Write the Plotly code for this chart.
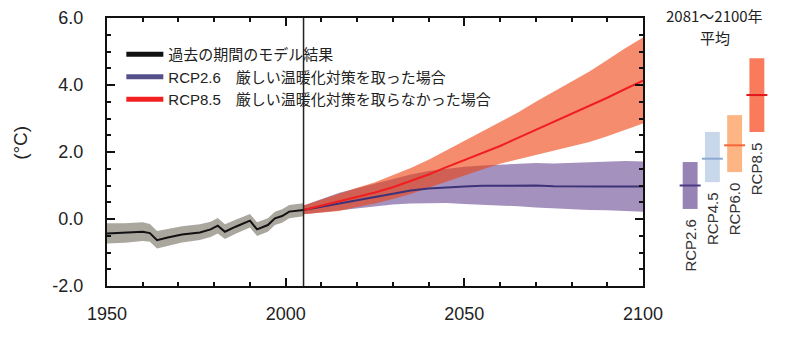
import plotly.graph_objects as go

# ---- historical model results (1950-2005) ----
hist_years = [1950, 1955, 1960, 1962, 1964, 1967, 1971, 1976, 1979, 1981,
              1983, 1986, 1990, 1992, 1995, 1997, 1999, 2001, 2003, 2005]
hist_mean = [-0.43, -0.41, -0.38, -0.42, -0.63, -0.55, -0.46, -0.40, -0.31, -0.20,
             -0.38, -0.23, -0.05, -0.31, -0.18, 0.02, 0.09, 0.22, 0.24, 0.27]
hist_upper = [-0.13, -0.13, -0.10, -0.15, -0.36, -0.30, -0.22, -0.16, -0.08, 0.03,
              -0.16, -0.02, 0.15, -0.10, 0.02, 0.22, 0.29, 0.42, 0.44, 0.47]
hist_lower = [-0.73, -0.71, -0.66, -0.68, -0.88, -0.80, -0.70, -0.63, -0.54, -0.43,
              -0.60, -0.44, -0.25, -0.51, -0.38, -0.18, -0.11, 0.02, 0.05, 0.08]

# ---- projections (2005-2100) ----
proj_years = [2005, 2010, 2015, 2020, 2025, 2030, 2035, 2040, 2045, 2050,
              2055, 2060, 2065, 2070, 2075, 2080, 2085, 2090, 2095, 2100]

rcp26_mean = [0.27, 0.37, 0.47, 0.57, 0.67, 0.77, 0.85, 0.91, 0.95, 0.97,
              0.99, 1.00, 0.99, 1.00, 0.98, 0.97, 0.98, 0.97, 0.97, 0.97]
rcp26_upper = [0.40, 0.60, 0.78, 0.92, 1.05, 1.20, 1.33, 1.43, 1.50, 1.56,
               1.60, 1.62, 1.64, 1.67, 1.66, 1.68, 1.68, 1.70, 1.73, 1.72]
rcp26_lower = [0.14, 0.20, 0.26, 0.33, 0.38, 0.43, 0.46, 0.48, 0.48, 0.45,
               0.43, 0.41, 0.38, 0.34, 0.31, 0.29, 0.27, 0.26, 0.24, 0.22]

rcp85_mean = [0.27, 0.40, 0.52, 0.65, 0.79, 0.95, 1.13, 1.33, 1.55, 1.76,
              1.97, 2.18, 2.42, 2.66, 2.90, 3.13, 3.37, 3.62, 3.88, 4.13]
rcp85_upper = [0.40, 0.58, 0.77, 0.93, 1.10, 1.30, 1.52, 1.77, 2.05, 2.35,
               2.62, 2.90, 3.18, 3.50, 3.80, 4.10, 4.40, 4.75, 5.10, 5.42]
rcp85_lower = [0.14, 0.18, 0.24, 0.36, 0.46, 0.60, 0.75, 0.93, 1.12, 1.30,
               1.48, 1.65, 1.78, 1.91, 2.03, 2.15, 2.30, 2.47, 2.65, 2.85]

hist_end_year = 2005

# ---- 2081-2100 mean (likely ranges) ----
scenarios = ["RCP2.6", "RCP4.5", "RCP6.0", "RCP8.5"]
scen_mean = [1.0, 1.8, 2.2, 3.7]
scen_low = [0.3, 1.1, 1.4, 2.6]
scen_high = [1.7, 2.6, 3.1, 4.8]
scen_fill = ["#9783b5", "#c9d7ea", "#fdb584", "#f97b5c"]
scen_line = ["#4a3a82", "#8ba9d2", "#f5673a", "#e3161c"]

# ---- axis ticks ----
y_tick_vals = [-2, 0, 2, 4, 6]
y_tick_text = ["-2.0", "0.0", "2.0", "4.0", "6.0"]
x_tick_vals = [1950, 2000, 2050, 2100]
x_tick_text = ["1950", "2000", "2050", "2100"]

legend_labels = ["過去の期間のモデル結果",
                 "RCP2.6\u3000厳しい温暖化対策を取った場合",
                 "RCP8.5\u3000厳しい温暖化対策を取らなかった場合"]
panel_title = ["2081～2100年", "平均"]

LATIN = "Liberation Sans, Arial, sans-serif"
JP = "Liberation Sans, Noto Sans CJK JP, sans-serif"

fig = go.Figure()

# historical band and line
fig.add_trace(go.Scatter(x=hist_years, y=hist_lower, mode="lines",
                         line=dict(width=0, color="rgba(0,0,0,0)"),
                         showlegend=False, hoverinfo="skip"))
fig.add_trace(go.Scatter(x=hist_years, y=hist_upper, mode="lines", fill="tonexty",
                         fillcolor="#aaa79f", line=dict(width=0, color="rgba(0,0,0,0)"),
                         showlegend=False, hoverinfo="skip"))
fig.add_trace(go.Scatter(x=hist_years, y=hist_mean, mode="lines",
                         line=dict(color="#111111", width=2), showlegend=False))

# RCP2.6 band
fig.add_trace(go.Scatter(x=proj_years, y=rcp26_lower, mode="lines",
                         line=dict(width=0, color="rgba(0,0,0,0)"),
                         showlegend=False, hoverinfo="skip"))
fig.add_trace(go.Scatter(x=proj_years, y=rcp26_upper, mode="lines", fill="tonexty",
                         fillcolor="rgba(91,55,136,0.55)",
                         line=dict(width=0, color="rgba(0,0,0,0)"),
                         showlegend=False, hoverinfo="skip"))
# RCP8.5 band
fig.add_trace(go.Scatter(x=proj_years, y=rcp85_lower, mode="lines",
                         line=dict(width=0, color="rgba(0,0,0,0)"),
                         showlegend=False, hoverinfo="skip"))
fig.add_trace(go.Scatter(x=proj_years, y=rcp85_upper, mode="lines", fill="tonexty",
                         fillcolor="rgba(238,63,13,0.6)",
                         line=dict(width=0, color="rgba(0,0,0,0)"),
                         showlegend=False, hoverinfo="skip"))
# projection mean lines
fig.add_trace(go.Scatter(x=proj_years, y=rcp26_mean, mode="lines",
                         line=dict(color="#3c3278", width=2), showlegend=False))
fig.add_trace(go.Scatter(x=proj_years, y=rcp85_mean, mode="lines",
                         line=dict(color="#f01e1e", width=2), showlegend=False))

# legend entries
for label, color in zip(legend_labels, ["#111111", "#55508a", "#f22020"]):
    fig.add_trace(go.Scatter(x=[None], y=[None], mode="lines", name=label,
                             line=dict(color=color, width=5)))

# 2081-2100 range bars
fig.add_trace(go.Bar(x=scenarios, y=[h - l for h, l in zip(scen_high, scen_low)],
                     base=scen_low, marker=dict(color=scen_fill, line=dict(width=0)),
                     xaxis="x2", yaxis="y2", showlegend=False))
fig.add_trace(go.Scatter(x=scenarios, y=scen_mean, mode="markers",
                         marker=dict(symbol="line-ew", size=15,
                                     line=dict(width=2, color=scen_line)),
                         xaxis="x2", yaxis="y2", showlegend=False))

for name, low in zip(scenarios, scen_low):
    fig.add_annotation(x=name, y=low, xref="x2", yref="y2", text=name,
                       textangle=-90, showarrow=False, xanchor="center",
                       yanchor="top", yshift=-8,
                       font=dict(family=LATIN, size=15, color="#333333"))

# panel heading, two lines
for text, ypos in zip(panel_title, [1.0075, 0.9254]):
    fig.add_annotation(x=0.89, y=ypos, xref="paper", yref="paper",
                       text=text, showarrow=False,
                       xanchor="center", yanchor="middle",
                       font=dict(family="Noto Sans CJK JP", size=15, color="#222222"))

# y-axis title
fig.add_annotation(x=-0.126, y=0.534, xref="paper", yref="paper", text="(°C)",
                   textangle=-90, showarrow=False, xanchor="center",
                   yanchor="middle",
                   font=dict(family=LATIN, size=19, color="#222222"))

# end of historical period
fig.add_shape(type="line", x0=hist_end_year, x1=hist_end_year, y0=0, y1=1,
              xref="x", yref="paper", line=dict(color="#222222", width=1.5))

axis_common = dict(showline=True, linecolor="#111111", linewidth=2, mirror="ticks",
                   ticks="inside", tickcolor="#111111", tickwidth=1.5, ticklen=8,
                   showgrid=False, zeroline=False, automargin=False,
                   tickfont=dict(family=LATIN, size=18, color="#222222"))

fig.update_layout(
    template="none",
    width=800, height=337,
    margin=dict(l=107, r=10, t=18, b=51, autoexpand=False),
    paper_bgcolor="white", plot_bgcolor="white",
    xaxis=dict(domain=[0, 0.7848], range=[1950, 2100],
               tickvals=x_tick_vals, ticktext=x_tick_text, ticklabelstandoff=10,
               minor=dict(dtick=10, tick0=1950, ticks="inside", ticklen=4,
                          tickwidth=1.5, tickcolor="#111111", showgrid=False),
               **axis_common),
    yaxis=dict(range=[-2, 6], tickvals=y_tick_vals, ticktext=y_tick_text,
               ticklabelstandoff=18,
               minor=dict(dtick=0.5, tick0=0, ticks="inside", ticklen=4,
                          tickwidth=1.5, tickcolor="#111111", showgrid=False),
               **axis_common),
    xaxis2=dict(domain=[0.8375, 0.9678], anchor="y2", type="category",
                range=[-0.5, 3.5], visible=False, automargin=False),
    yaxis2=dict(domain=[0, 1], anchor="x2", range=[-2, 6], visible=False,
                automargin=False),
    bargap=0.33,
    showlegend=True,
    legend=dict(x=0.021, y=0.925, xanchor="left", yanchor="top",
                traceorder="normal", itemwidth=37,
                bgcolor="rgba(0,0,0,0)", tracegroupgap=0,
                font=dict(family=JP, size=15, color="#222222")),
)

fig.write_html("out.html")
